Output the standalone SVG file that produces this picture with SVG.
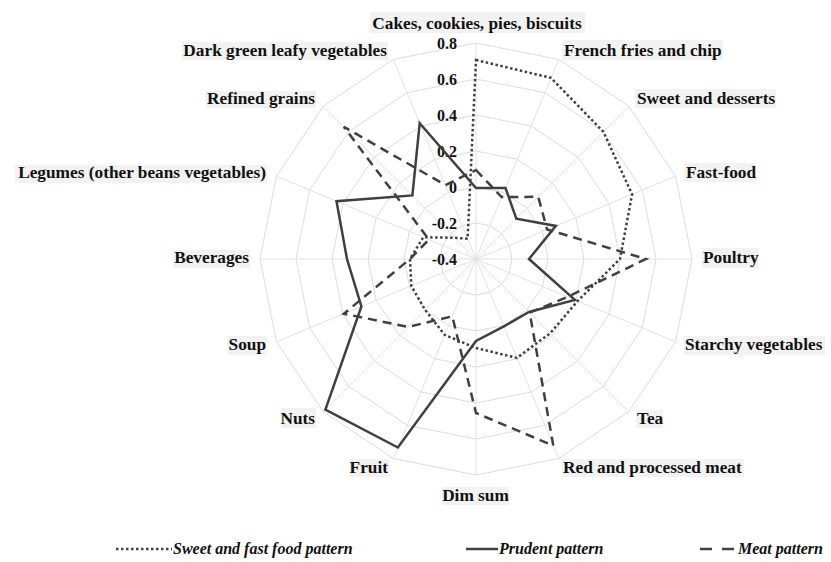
<svg xmlns="http://www.w3.org/2000/svg" xmlns:xlink="http://www.w3.org/1999/xlink" width="831" height="562" viewBox="0 0 831 562">
<style>
.grid{fill:none;stroke:#dcdcdc;stroke-width:1;vector-effect:non-scaling-stroke}
.spoke{fill:none;stroke:#e2e2e2;stroke-width:1}
.s{fill:none;stroke:#404040;stroke-width:2.5;stroke-linejoin:miter}
.dot{stroke-dasharray:2.5 2.5}
.dash{stroke-dasharray:9 6}
.lbl{font-family:"Liberation Serif","Times New Roman",serif;font-weight:bold;font-size:17.3px;fill:#111}
.bg{fill:#f2f2f2}
.tick{font-family:"Liberation Serif","Times New Roman",serif;font-weight:bold;font-size:16px;fill:#111;text-anchor:end}
.leg{font-family:"Liberation Serif","Times New Roman",serif;font-weight:bold;font-style:italic;font-size:16px;fill:#111}
</style>
<defs>
<polygon id="ring" class="grid" points="0,-216 82.66,-199.56 152.74,-152.74 199.56,-82.66 216,0 199.56,82.66 152.74,152.74 82.66,199.56 0,216 -82.66,199.56 -152.74,152.74 -199.56,82.66 -216,0 -199.56,-82.66 -152.74,-152.74 -82.66,-199.56"/>
</defs>
<rect width="831" height="562" fill="#fff"/>
<g id="grid">
<use xlink:href="#ring" href="#ring" transform="translate(476 259) scale(0.16667)"/>
<use xlink:href="#ring" href="#ring" transform="translate(476 259) scale(0.33333)"/>
<use xlink:href="#ring" href="#ring" transform="translate(476 259) scale(0.5)"/>
<use xlink:href="#ring" href="#ring" transform="translate(476 259) scale(0.66667)"/>
<use xlink:href="#ring" href="#ring" transform="translate(476 259) scale(0.83333)"/>
<use xlink:href="#ring" href="#ring" transform="translate(476 259)"/>
<path class="spoke" transform="translate(476 259)" d="M0,0L0,-216M0,0L82.66,-199.56M0,0L152.74,-152.74M0,0L199.56,-82.66M0,0L216,0M0,0L199.56,82.66M0,0L152.74,152.74M0,0L82.66,199.56M0,0L0,216M0,0L-82.66,199.56M0,0L-152.74,152.74M0,0L-199.56,82.66M0,0L-216,0M0,0L-199.56,-82.66M0,0L-152.74,-152.74M0,0L-82.66,-199.56"/>
</g>
<g id="ticks">
<text class="tick" x="457" y="49">0.8</text>
<text class="tick" x="457" y="85">0.6</text>
<text class="tick" x="457" y="121">0.4</text>
<text class="tick" x="457" y="157">0.2</text>
<text class="tick" x="457" y="193">0</text>
<text class="tick" x="457" y="229">-0.2</text>
<text class="tick" x="457" y="265">-0.4</text>
</g>
<g id="series">
<polygon id="sweet" class="s dot" points="476,60 551,77.9 603.3,131.7 632.1,194.3 620,259 577.6,301.1 550.2,333.2 516.9,357.9 476,348 444.6,334.8 425.1,309.9 411.3,285.8 410,259 423.3,237.2 454.8,237.8 467.6,238.7"/>
<polygon id="prudent" class="s" points="476,188 505.5,187.9 516.3,218.7 555.9,225.9 529,259 574.9,299.9 529,312 503.9,326.4 476,341 397.9,447.5 325.4,409.6 361.4,306.5 347,259 336.5,201.2 412.4,195.4 419.7,123.2"/>
<polygon id="meat" class="s dash" points="476,170 501.6,197.1 538.2,196.8 547.1,229.5 646,259 567.5,296.9 529.7,312.7 553.3,445.6 476,413 452.3,316.3 408.1,326.9 343.9,313.7 410,259 428.9,239.5 343.8,126.8 445.4,185.1"/>
</g>
<g id="labels">
<g id="l-cakes"><rect class="bg" x="370" y="12" width="215" height="21"/><text class="lbl" x="477" y="29" text-anchor="middle">Cakes, cookies, pies, biscuits</text></g>
<g id="l-fries"><rect class="bg" x="562" y="40" width="161" height="20"/><text class="lbl" x="564" y="56">French fries and chip</text></g>
<g id="l-sweet"><rect class="bg" x="635" y="89" width="141" height="19"/><text class="lbl" x="637" y="104">Sweet and desserts</text></g>
<g id="l-fast"><rect class="bg" x="684" y="163" width="72" height="19"/><text class="lbl" x="686" y="178">Fast-food</text></g>
<g id="l-poultry"><rect class="bg" x="702" y="248" width="57" height="20"/><text class="lbl" x="703" y="263">Poultry</text></g>
<g id="l-starchy"><rect class="bg" x="684" y="336" width="141" height="19"/><text class="lbl" x="685" y="350">Starchy vegetables</text></g>
<g id="l-tea"><rect class="bg" x="636" y="410" width="27" height="18"/><text class="lbl" x="637" y="424">Tea</text></g>
<g id="l-meat"><rect class="bg" x="562" y="459" width="182" height="18"/><text class="lbl" x="563" y="473">Red and processed meat</text></g>
<g id="l-dimsum"><rect class="bg" x="442" y="487" width="67" height="18"/><text class="lbl" x="475.5" y="501" text-anchor="middle">Dim sum</text></g>
<g id="l-fruit"><rect class="bg" x="350" y="459" width="39" height="18"/><text class="lbl" x="388" y="473" text-anchor="end">Fruit</text></g>
<g id="l-nuts"><rect class="bg" x="281" y="408" width="35" height="20"/><text class="lbl" x="315" y="424" text-anchor="end">Nuts</text></g>
<g id="l-soup"><rect class="bg" x="228" y="336" width="39" height="19"/><text class="lbl" x="266" y="350" text-anchor="end">Soup</text></g>
<g id="l-bev"><rect class="bg" x="173" y="250" width="77" height="18"/><text class="lbl" x="249" y="263" text-anchor="end">Beverages</text></g>
<g id="l-legumes"><rect class="bg" x="15" y="165" width="252" height="18"/><text class="lbl" x="266" y="178" text-anchor="end">Legumes (other beans vegetables)</text></g>
<g id="l-refined"><rect class="bg" x="206" y="91" width="110" height="17"/><text class="lbl" x="315" y="104" text-anchor="end">Refined grains</text></g>
<g id="l-dark"><rect class="bg" x="182" y="42" width="206" height="18"/><text class="lbl" x="387" y="56" text-anchor="end">Dark green leafy vegetables</text></g>
</g>
<g id="legend">
<line class="s dot" x1="116" y1="549" x2="172" y2="549" stroke-width="2"/>
<text class="leg" x="173" y="554">Sweet and fast food pattern</text>
<line class="s" x1="466" y1="549" x2="498" y2="549"/>
<text class="leg" x="499" y="554">Prudent pattern</text>
<line class="s" x1="700" y1="549" x2="712" y2="549"/>
<line class="s" x1="722" y1="549" x2="734" y2="549"/>
<text class="leg" x="738" y="554">Meat pattern</text>
</g>
</svg>
